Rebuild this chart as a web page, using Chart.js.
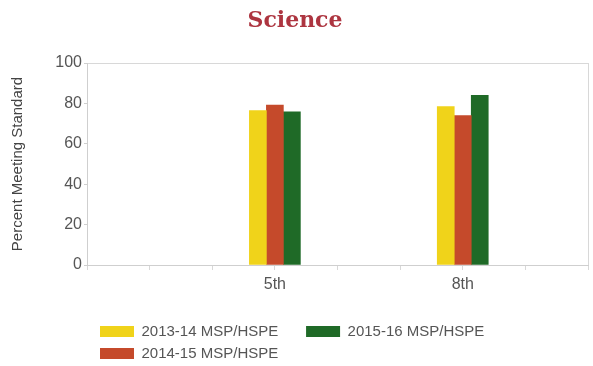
<!DOCTYPE html>
<html><head><meta charset="utf-8">
<script src="https://cdn.jsdelivr.net/npm/chart.js@4.4.0/dist/chart.umd.min.js"></script>
<style>html,body{margin:0;padding:0;background:#fff}#wrap{width:593px;height:366px}</style>
</head><body><div id="wrap"><canvas id="c" width="593" height="366"></canvas></div>
<script>
const titleText = 'Science';
const yAxisTitle = 'Percent Meeting Standard';
const categories = ['', '', '', '5th', '', '', '8th', '', ''];
const seriesNames = ['2013-14 MSP/HSPE', '2014-15 MSP/HSPE', '2015-16 MSP/HSPE'];
const values2013 = [null, null, null, 76.5, null, null, 78.4, null, null];
const values2014 = [null, null, null, 79.2, null, null, 74.0, null, null];
const values2015 = [null, null, null, 75.8, null, null, 84.0, null, null];
const yMin = 0, yMax = 100, yStep = 20;
const colors = ['#f0d31a', '#c54a2b', '#1f6a27'];
const legendOrder = [0, 2, 1];

const sans = "'Liberation Sans', Arial, sans-serif";
const seriesValues = [values2013, values2014, values2015];

const legendShift = {
  id: 'legendShift',
  afterLayout(chart) {
    const l = chart.legend;
    if (l) { l.left += 6; l.right += 6; }
  }
};

new Chart(document.getElementById('c'), {
  type: 'bar',
  data: {
    labels: categories,
    datasets: seriesNames.map((name, i) => ({
      label: name,
      data: seriesValues[i],
      backgroundColor: colors[i],
      borderWidth: 0,
      barThickness: 17
    }))
  },
  options: {
    responsive: false,
    animation: false,
    devicePixelRatio: 1,
    layout: { padding: { left: 0, right: 3, top: 0, bottom: -5 } },
    plugins: {
      title: {
        display: true,
        text: titleText,
        color: '#ad3540',
        font: { family: "'DejaVu Serif', serif", size: 22, weight: 'bold' },
        padding: { top: 8, bottom: 28.6 }
      },
      legend: {
        display: true,
        position: 'bottom',
        align: 'start',
        fullSize: false,
        labels: {
          boxWidth: 34,
          boxHeight: 11,
          padding: 7,
          color: '#555',
          font: { family: sans, size: 15 },
          sort: (a, b) => legendOrder[a.datasetIndex] - legendOrder[b.datasetIndex],
          generateLabels: (chart) => Chart.defaults.plugins.legend.labels.generateLabels(chart)
            .map(it => Object.assign(it, { text: it.text + '     ', lineWidth: 0 }))
        }
      },
      tooltip: { enabled: false }
    },
    scales: {
      x: {
        type: 'category',
        offset: false,
        grid: {
          offset: false,
          display: true,
          drawOnChartArea: true,
          color: (ctx) => ctx.index === categories.length - 1 ? '#d8d8d8' : 'rgba(0,0,0,0)',
          tickColor: '#d8d8d8',
          tickLength: 5
        },
        border: { display: true, color: '#cfcfcf', width: 1 },
        ticks: {
          autoSkip: false,
          maxRotation: 0,
          padding: 5,
          color: '#555',
          font: { family: sans, size: 16 }
        },
        afterFit: (scale) => { scale.height = 52; }
      },
      y: {
        min: yMin,
        max: yMax,
        ticks: {
          stepSize: yStep,
          padding: 2,
          color: '#555',
          font: { family: sans, size: 16 }
        },
        grid: {
          color: (ctx) => ctx.tick && ctx.tick.value === yMax ? '#d8d8d8' : 'rgba(0,0,0,0)',
          tickColor: '#cfcfcf',
          tickLength: 3
        },
        border: { display: true, color: '#cfcfcf', width: 1 },
        title: {
          display: true,
          text: yAxisTitle,
          color: '#444',
          font: { family: sans, size: 15 },
          padding: { top: 9, bottom: 0 }
        },
        afterFit: (scale) => { scale.width = 87; }
      }
    }
  },
  plugins: [legendShift]
});
</script>
</body></html>
